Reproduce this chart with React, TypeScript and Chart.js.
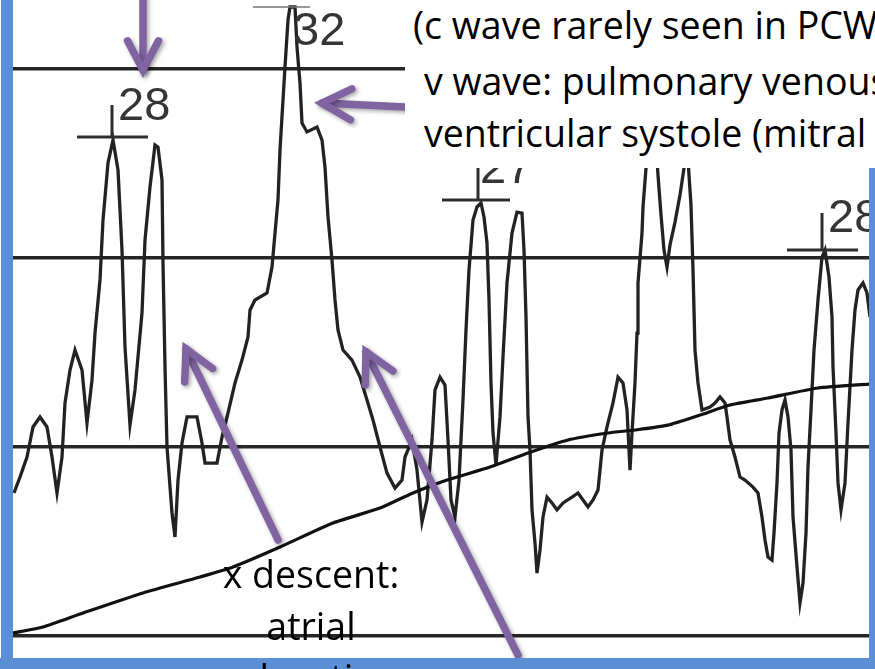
import { useEffect, useRef } from "react";
import { Chart, registerables } from "chart.js";

Chart.register(...registerables);

const traceTime = [
  0.01, 0.07, 0.14, 0.2, 0.27, 0.34, 0.39, 0.44, 0.49, 0.52, 0.57, 0.62, 0.69, 0.74, 0.79, 0.82, 0.87, 0.9, 0.95, 1.0,
  1.05, 1.09, 1.12, 1.17, 1.22, 1.29, 1.32, 1.37, 1.42, 1.45, 1.49, 1.5, 1.52, 1.54, 1.59, 1.62, 1.65, 1.69, 1.74, 1.84,
  1.89, 1.92, 2.04, 2.09, 2.15, 2.22, 2.29, 2.35, 2.37, 2.42, 2.54, 2.59, 2.62, 2.65, 2.67, 2.7, 2.72, 2.75, 2.77, 2.82,
  2.84, 2.87, 2.89, 2.94, 3.04, 3.09, 3.12, 3.15, 3.19, 3.22, 3.25, 3.3, 3.39, 3.47, 3.54, 3.6, 3.67, 3.74, 3.82, 3.89,
  3.92, 3.99, 4.04, 4.09, 4.14, 4.19, 4.22, 4.27, 4.32, 4.35, 4.38, 4.42, 4.46, 4.5, 4.53, 4.56, 4.6, 4.64, 4.68, 4.71,
  4.74, 4.76, 4.78, 4.8, 4.83, 4.87, 4.9, 4.94, 4.99, 5.04, 5.09, 5.11, 5.13, 5.15, 5.17, 5.19, 5.22, 5.24, 5.27, 5.3,
  5.34, 5.39, 5.44, 5.5, 5.59, 5.65, 5.7, 5.75, 5.8, 5.85, 5.89, 5.94, 6.0, 6.05, 6.1, 6.14, 6.17, 6.19, 6.22, 6.24,
  6.25, 6.29, 6.3, 6.33, 6.36, 6.42, 6.45, 6.48, 6.51, 6.54, 6.57, 6.62, 6.67, 6.71, 6.74, 6.76, 6.78, 6.8, 6.82, 6.85,
  6.89, 6.97, 7.02, 7.07, 7.12, 7.14, 7.17, 7.22, 7.27, 7.32, 7.4, 7.45, 7.49, 7.52, 7.55, 7.59, 7.61, 7.64, 7.66, 7.69,
  7.72, 7.75, 7.78, 7.8, 7.84, 7.87, 7.9, 7.93, 7.95, 7.98, 8.01, 8.05, 8.09, 8.12, 8.16, 8.19, 8.2, 8.23, 8.25, 8.28,
  8.32, 8.35, 8.39, 8.42, 8.45, 8.5, 8.54, 8.57,
];
const tracePressure = [
  7.57, 8.41, 9.47, 11.06, 11.59, 11.06, 9.47, 7.57, 9.47, 12.33, 14.07, 15.13, 14.07, 11.27, 13.54, 16.03, 18.84, 22.01, 25.03, 26.24,
  24.66, 20.42, 15.29, 11.16, 13.02, 17.09, 20.95, 23.76, 25.98, 25.87, 24.13, 19.74, 14.23, 10.0, 6.51, 5.24, 8.25, 10.21, 11.59, 11.59,
  10.21, 9.15, 9.15, 10.53, 11.8, 13.39, 14.6, 15.82, 17.25, 17.78, 18.15, 19.52, 21.32, 23.07, 25.71, 28.36, 30.11, 32.59, 33.28, 33.28,
  31.16, 29.26, 27.14, 26.67, 26.93, 26.24, 24.81, 22.17, 19.89, 17.78, 16.19, 15.13, 14.6, 13.7, 12.49, 11.43, 10.0, 8.62, 7.83, 8.25,
  9.47, 10.37, 8.78, 6.03, 7.2, 10.37, 13.02, 13.7, 13.28, 10.37, 7.2, 6.3, 8.25, 12.49, 16.19, 19.37, 22.01, 22.7, 22.91, 22.17,
  20.79, 17.78, 13.39, 10.74, 9.05, 11.59, 14.76, 18.68, 21.32, 22.43, 22.38, 20.42, 16.88, 11.59, 9.84, 6.67, 4.92, 3.33, 4.55, 6.3,
  7.35, 7.04, 6.67, 7.04, 7.35, 7.57, 7.2, 6.83, 7.2, 7.72, 9.84, 11.06, 12.33, 13.7, 13.39, 11.96, 8.78, 10.74, 13.39, 16.03,
  18.68, 21.32, 22.7, 24.76, 26.77, 26.77, 24.39, 22.28, 20.42, 19.52, 20.69, 21.9, 23.33, 24.76, 26.24, 24.39, 22.8, 19.37, 15.13, 13.39,
  11.96, 12.12, 12.33, 12.65, 12.33, 11.59, 10.37, 9.47, 8.41, 8.25, 7.88, 7.57, 6.3, 5.08, 4.18, 4.02, 5.45, 8.1, 10.74, 11.96,
  12.49, 11.59, 9.84, 6.3, 3.65, 1.75, 2.8, 5.45, 8.94, 11.96, 15.13, 17.78, 20.05, 20.42, 18.99, 16.88, 14.23, 10.74, 8.1, 6.67,
  8.1, 11.27, 15.13, 17.25, 18.31, 18.68, 18.15, 16.88,
];

// respiratory / reference baseline drawn across the strip
const baselineTime = [0.0, 0.3, 0.7, 1.3, 1.87, 2.2, 2.67, 3.2, 3.67, 4.0, 4.34, 4.77, 5.15, 5.55, 5.95, 6.22, 6.55, 6.87, 7.17, 7.55, 8.05, 8.57];
const baselinePressure = [0.16, 0.48, 1.22, 2.28, 3.12, 3.65, 4.71, 5.98, 6.77, 7.57, 8.25, 8.94, 9.68, 10.37, 10.74, 10.9, 11.16, 11.69, 12.22, 12.59, 13.12, 13.33];

// grid lines of the strip (mmHg)
const gridPressures = [0, 10, 20, 30];

// printed peak values and their marker bars
const peakLabels = ["28", "32", "27", "28"];
const peakPressure = [26.4, 33.28, 23.07, 20.42];
const peakStart = [0.64, 2.4, 4.29, 7.74];
const peakEnd = [1.35, 2.97, 4.97, 8.45];
const peakTickTime = [0.99, null, 4.65, 8.09];
const peakTickTop = [28.1, null, 24.92, 22.38];

// layout of the annotation overlay (data coordinates)
const labelAnchors = [
  { t: 1.05, p: 27.3 },
  { t: 2.8, p: 31.27 },
  { t: 4.67, p: 23.97 },
  { t: 8.15, p: 21.38 },
];
const arrows = [
  { from: { t: 1.3, p: 34.18 }, to: { t: 1.3, p: 29.95 } },
  { from: { t: 3.92, p: 27.99 }, to: { t: 3.09, p: 28.2 } },
  { from: { t: 2.65, p: 5.08 }, to: { t: 1.73, p: 15.19 } },
  { from: { t: 5.05, p: -1.01 }, to: { t: 3.53, p: 15.03 } },
];

const BLUE = "#5a8ed5";
const PURPLE = "#8064a2";

const annotationPlugin = {
  id: "pcwAnnotations",
  afterDatasetsDraw(chart: any) {
    const { ctx, scales } = chart;
    const xs = scales.x;
    const ys = scales.y;
    ctx.save();
    ctx.font = "47px 'Liberation Sans', Arial, sans-serif";
    ctx.fillStyle = "#353535";
    ctx.textBaseline = "alphabetic";
    peakLabels.forEach((lab, i) => {
      const a = labelAnchors[i];
      ctx.fillText(lab, xs.getPixelForValue(a.t), ys.getPixelForValue(a.p));
    });
    ctx.restore();

    ctx.save();
    ctx.strokeStyle = PURPLE;
    ctx.lineWidth = 7.5;
    ctx.lineCap = "round";
    ctx.lineJoin = "miter";
    ctx.shadowColor = "rgba(0,0,0,0.35)";
    ctx.shadowBlur = 4;
    ctx.shadowOffsetX = 2;
    ctx.shadowOffsetY = 2;
    const ang = (28 * Math.PI) / 180;
    const L = 33;
    arrows.forEach((ar) => {
      const x1 = xs.getPixelForValue(ar.from.t);
      const y1 = ys.getPixelForValue(ar.from.p);
      const x2 = xs.getPixelForValue(ar.to.t);
      const y2 = ys.getPixelForValue(ar.to.p);
      const dx = x1 - x2;
      const dy = y1 - y2;
      const len = Math.hypot(dx, dy);
      const ux = dx / len;
      const uy = dy / len;
      const c = Math.cos(ang);
      const s = Math.sin(ang);
      const ax = x2 + L * (ux * c - uy * s);
      const ay = y2 + L * (ux * s + uy * c);
      const bx = x2 + L * (ux * c + uy * s);
      const by = y2 + L * (-ux * s + uy * c);
      ctx.beginPath();
      ctx.moveTo(x1, y1);
      ctx.lineTo(x2, y2);
      ctx.stroke();
      ctx.beginPath();
      ctx.moveTo(ax, ay);
      ctx.lineTo(x2, y2);
      ctx.lineTo(bx, by);
      ctx.stroke();
    });
    ctx.restore();
  },
};

export default function App() {
  const ref = useRef<HTMLCanvasElement>(null);

  useEffect(() => {
    const trace = traceTime.map((t, i) => ({ x: t, y: tracePressure[i] }));
    const base = baselineTime.map((t, i) => ({ x: t, y: baselinePressure[i] }));
    const markers: any[] = [];
    const thinMarkers: any[] = [];
    peakLabels.forEach((_, i) => {
      const target = peakTickTime[i] === null ? thinMarkers : markers;
      target.push({ x: peakStart[i], y: peakPressure[i] }, { x: peakEnd[i], y: peakPressure[i] }, { x: peakEnd[i], y: null });
      if (peakTickTime[i] !== null) {
        target.push(
          { x: peakTickTime[i], y: peakPressure[i] },
          { x: peakTickTime[i], y: peakTickTop[i] },
          { x: peakTickTime[i], y: null }
        );
      }
    });

    const chart = new Chart(ref.current as HTMLCanvasElement, {
      type: "line",
      data: {
        datasets: [
          { data: base, borderColor: "#111", borderWidth: 3.2, pointRadius: 0, tension: 0.2 },
          { data: markers, borderColor: "#2e2e2e", borderWidth: 3, pointRadius: 0, spanGaps: false },
          { data: thinMarkers, borderColor: "#777", borderWidth: 1.5, pointRadius: 0, spanGaps: false },
          { data: trace, borderColor: "#222", borderWidth: 3.3, pointRadius: 0, tension: 0 },
        ],
      },
      options: {
        animation: false,
        responsive: false,
        devicePixelRatio: 1,
        events: [],
        layout: { padding: 0 },
        plugins: { legend: { display: false }, tooltip: { enabled: false } },
        scales: {
          x: { type: "linear", min: 0, max: 8.56, display: false },
          y: {
            type: "linear",
            min: -1.164,
            max: 33.651,
            ticks: { display: false },
            border: { display: false },
            grid: { color: "#262626", lineWidth: 3.5, drawTicks: false },
            afterBuildTicks: (s: any) => {
              s.ticks = gridPressures.map((v) => ({ value: v }));
            },
            afterFit: (s: any) => {
              s.width = 0;
            },
          },
        },
      } as any,
      plugins: [annotationPlugin],
    });
    return () => chart.destroy();
  }, []);

  const textStyle: any = {
    position: "absolute",
    fontFamily: "'Open Sans', sans-serif",
    fontSize: "37.5px",
    lineHeight: "37.5px",
    whiteSpace: "nowrap",
    color: "#000",
  };

  return (
    <div style={{ position: "fixed", left: 0, top: 0, width: 875, height: 669, overflow: "hidden", background: "#fff" }}>
      <div style={{ position: "absolute", left: 1, top: 0, width: 12, height: 669, background: BLUE }} />
      <div style={{ position: "absolute", left: 869, top: 0, width: 6, height: 669, background: BLUE }} />
      <div style={{ position: "absolute", left: 0, top: 658, width: 875, height: 11, background: BLUE }} />
      <canvas ref={ref} width={856} height={658} style={{ position: "absolute", left: 13, top: 0, width: 856, height: 658 }} />
      <div style={{ position: "absolute", left: 405, top: 0, width: 470, height: 168, background: "#fff" }} />
      <div style={{ ...textStyle, left: 413, top: 5.7 }}>(c wave rarely seen in PCW</div>
      <div style={{ ...textStyle, left: 424, top: 61.7 }}>v wave: pulmonary venous</div>
      <div style={{ ...textStyle, left: 424, top: 113.7 }}>ventricular systole (mitral</div>
      <div style={{ ...textStyle, left: 111, width: 400, textAlign: "center", top: 554.7 }}>x descent:</div>
      <div style={{ ...textStyle, left: 111, width: 400, textAlign: "center", top: 606.7 }}>atrial</div>
      <div style={{ ...textStyle, left: 111, width: 400, textAlign: "center", top: 658.7 }}>relaxation</div>
    </div>
  );
}
